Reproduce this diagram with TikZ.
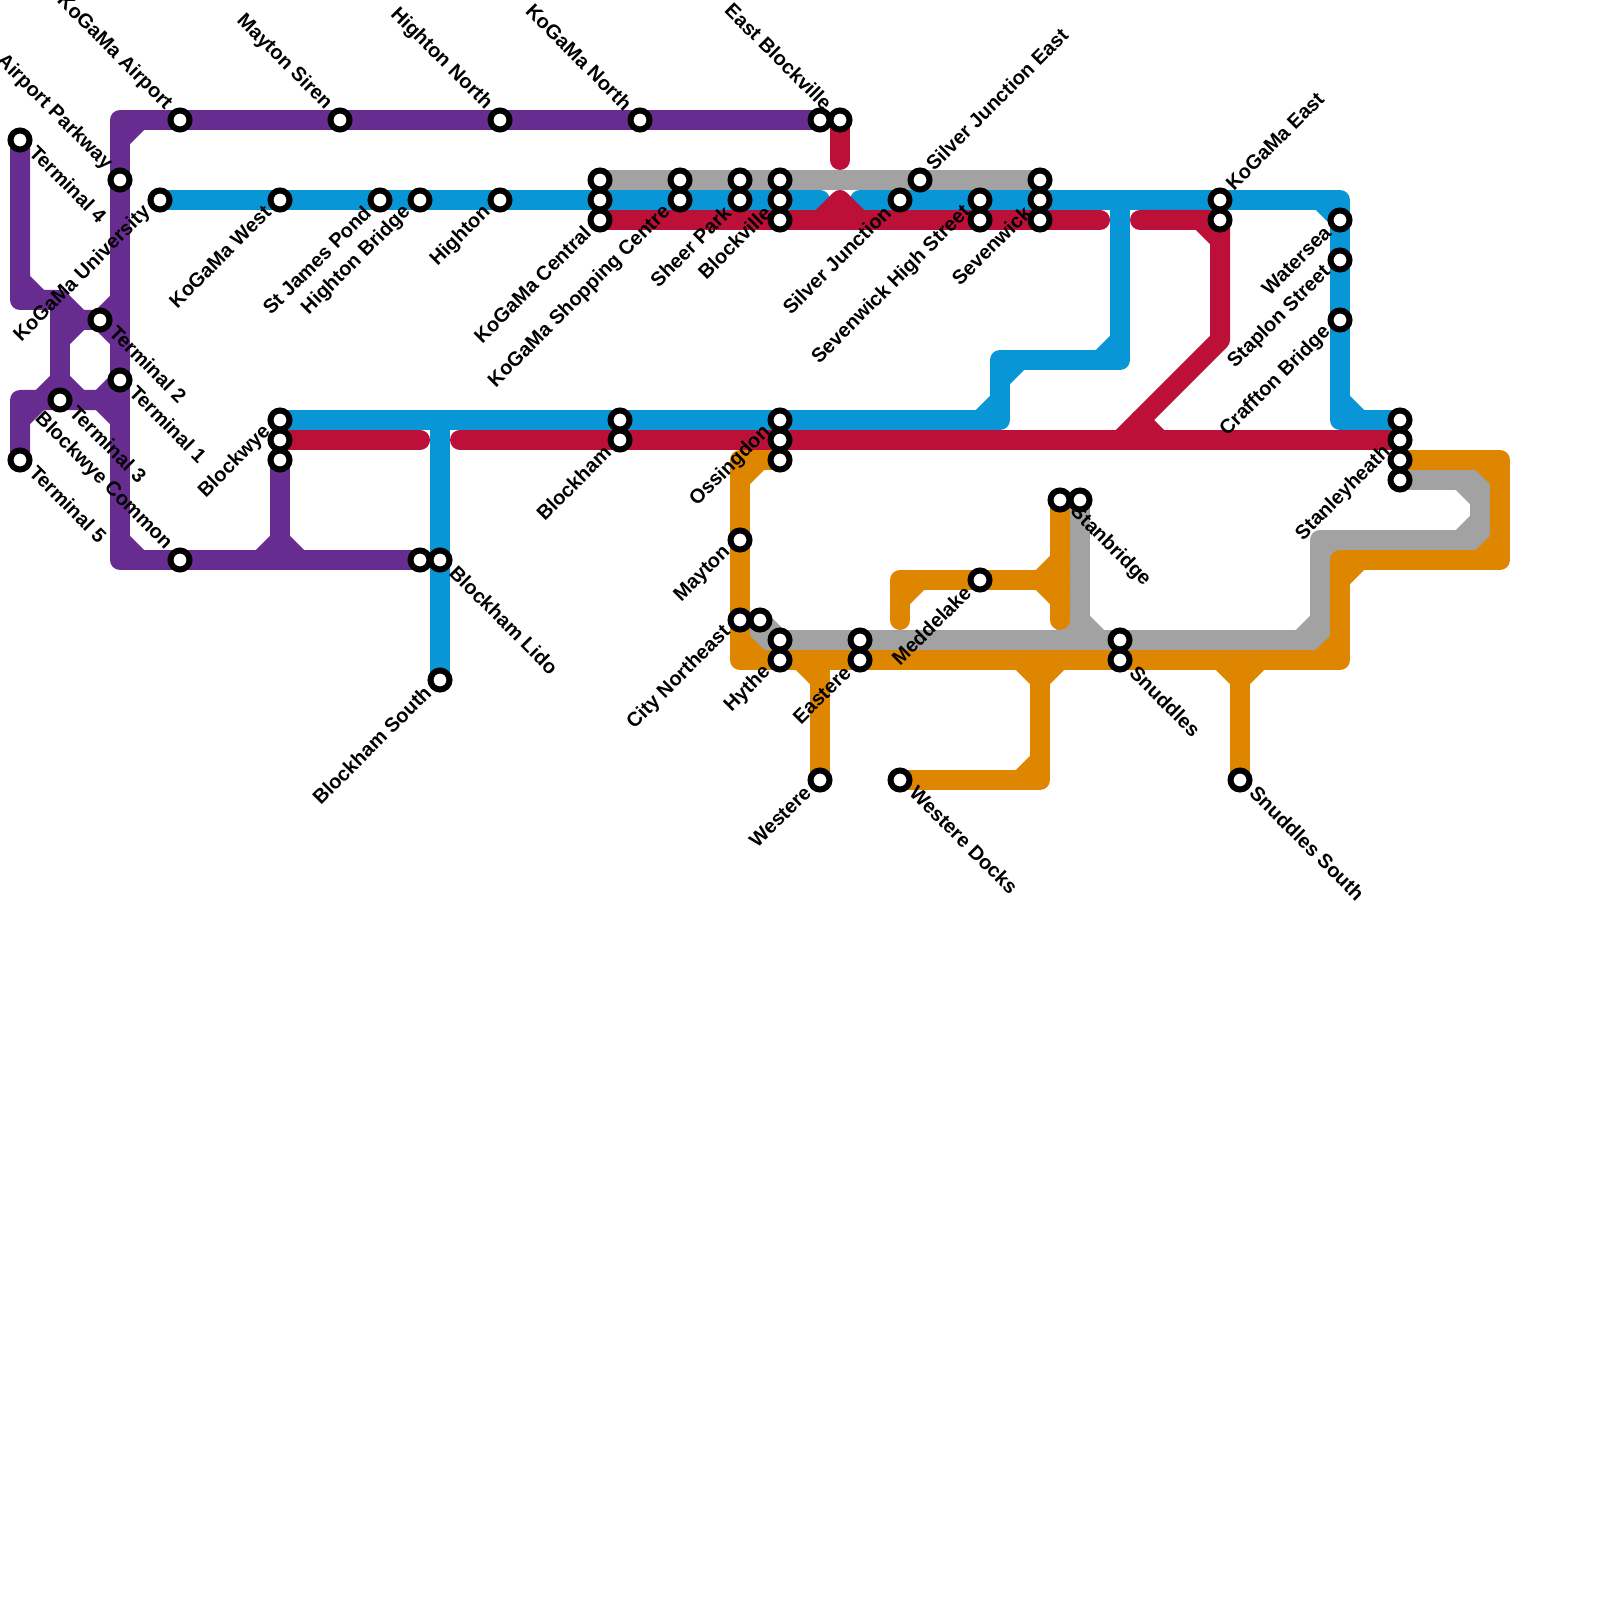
\documentclass[tikz,border=0pt]{standalone}
\usepackage{fontspec}
\setmainfont{Liberation Sans}
\usepackage{xcolor}
\definecolor{LinePurple}{HTML}{662C90}
\definecolor{LineBlue}{HTML}{0896D7}
\definecolor{LineRed}{HTML}{BD1038}
\definecolor{LineGrey}{HTML}{A2A2A2}
\definecolor{LineOrange}{HTML}{DF8600}
\usepackage{tikz}
\usetikzlibrary{backgrounds}

\begin{document}
\begin{tikzpicture}[
  x=2mm,y=-2mm,
  stop/.style={circle,draw=black,fill=white,line width=0.6mm,minimum size=1.9mm,inner sep=0pt},
  lab/.style={font=\fontsize{5.69pt}{6pt}\selectfont\bfseries,inner sep=0pt,label distance=0.9mm},
  sw/.style={stop,label={[lab,rotate=45,anchor=east,xshift=0.4mm,yshift=0.87mm]225:#1}},
  nw/.style={stop,label={[lab,rotate=-45,anchor=east,xshift=0.2mm,yshift=-0.5mm]135:#1}},
  ne/.style={stop,label={[lab,rotate=45,anchor=west,xshift=-0.36mm,yshift=-0.36mm]45:#1}},
  se/.style={stop,label={[lab,rotate=-45,anchor=west,xshift=-0.36mm,yshift=0.92mm]-45:#1}},
  metro/.style={line width=2mm,line cap=round,line join=round},
  purpleline/.style={metro,LinePurple},
  blueline/.style={metro,LineBlue},
  redline/.style={metro,LineRed},
  greyline/.style={metro,LineGrey},
  orangeline/.style={metro,LineOrange}
]
  \useasboundingbox (0,0) rectangle (80,80);

  % top row
  \node[nw={KoGaMa Airport}] (kair) at (9,6) {};
  \node[nw={Mayton Siren}] (msir) at (17,6) {};
  \node[nw={Highton North}] (hnor) at (25,6) {};
  \node[nw={KoGaMa North}] (knor) at (32,6) {};
  \node[stop] (ebl1) at (41,6) {};
  \node[nw={East Blockville}] (ebl2) at (42,6) {};
  % terminals
  \node[se={Terminal 4}] (ter4) at (1,7) {};
  \node[nw={Airport Parkway}] (apar) at (6,9) {};
  \node[se={Terminal 2}] (ter2) at (5,16) {};
  \node[se={Terminal 1}] (ter1) at (6,19) {};
  \node[se={Terminal 3}] (ter3) at (3,20) {};
  \node[se={Terminal 5}] (ter5) at (1,23) {};
  % second row
  \node[sw={KoGaMa University}] (kuni) at (8,10) {};
  \node[sw={KoGaMa West}] (kwes) at (14,10) {};
  \node[sw={St James Pond}] (sjam) at (19,10) {};
  \node[sw={Highton Bridge}] (hbri) at (21,10) {};
  \node[sw={Highton}] (high) at (25,10) {};
  \node[stop] (kce1) at (30,9) {};
  \node[stop] (kce2) at (30,10) {};
  \node[sw={KoGaMa Central}] (kce3) at (30,11) {};
  \node[stop] (ksc1) at (34,9) {};
  \node[sw={KoGaMa Shopping Centre}] (ksc2) at (34,10) {};
  \node[stop] (shp1) at (37,9) {};
  \node[sw={Sheer Park}] (shp2) at (37,10) {};
  \node[stop] (blv1) at (39,9) {};
  \node[sw={Blockville}] (blv2) at (39,10) {};
  \node[stop] (blv3) at (39,11) {};
  \node[sw={Silver Junction}] (sjun) at (45,10) {};
  \node[ne={Silver Junction East}] (sjea) at (46,9) {};
  \node[sw={Sevenwick High Street}] (shs1) at (49,10) {};
  \node[stop] (shs2) at (49,11) {};
  \node[stop] (sev1) at (52,9) {};
  \node[sw={Sevenwick}] (sev2) at (52,10) {};
  \node[stop] (sev3) at (52,11) {};
  \node[ne={KoGaMa East}] (kea1) at (61,10) {};
  \node[stop] (kea2) at (61,11) {};
  \node[sw={Watersea}] (wats) at (67,11) {};
  \node[sw={Staplon Street}] (stap) at (67,13) {};
  \node[sw={Craffton Bridge}] (craf) at (67,16) {};
  % middle
  \node[sw={Blockwye}] (bwy1) at (14,21) {};
  \node[stop] (bwy2) at (14,22) {};
  \node[stop] (bwy3) at (14,23) {};
  \node[stop] (bkh1) at (31,21) {};
  \node[sw={Blockham}] (bkh2) at (31,22) {};
  \node[sw={Ossingdon}] (oss1) at (39,21) {};
  \node[stop] (oss2) at (39,22) {};
  \node[stop] (oss3) at (39,23) {};
  \node[stop] (sth1) at (70,21) {};
  \node[sw={Stanleyheath}] (sth2) at (70,22) {};
  \node[stop] (sth3) at (70,23) {};
  \node[stop] (sth4) at (70,24) {};
  % lower
  \node[nw={Blockwye Common}] (bcom) at (9,28) {};
  \node[stop] (lid1) at (21,28) {};
  \node[se={Blockham Lido}] (lid2) at (22,28) {};
  \node[sw={Blockham South}] (bsou) at (22,34) {};
  \node[sw={Mayton}] (mayt) at (37,27) {};
  \node[sw={City Northeast}] (cne1) at (37,31) {};
  \node[stop] (cne2) at (38,31) {};
  \node[stop] (hyt1) at (39,32) {};
  \node[sw={Hythe}] (hyt2) at (39,33) {};
  \node[stop] (eas1) at (43,32) {};
  \node[sw={Eastere}] (eas2) at (43,33) {};
  \node[sw={Meddelake}] (medd) at (49,29) {};
  \node[se={Stanbridge}] (sbr1) at (53,25) {};
  \node[stop] (sbr2) at (54,25) {};
  \node[stop] (snu1) at (56,32) {};
  \node[se={Snuddles}] (snu2) at (56,33) {};
  \node[sw={Westere}] (west) at (41,39) {};
  \node[se={Westere Docks}] (wdoc) at (45,39) {};
  \node[se={Snuddles South}] (ssou) at (62,39) {};

  % bends and junctions
  \coordinate (pu1) at (6,6);
  \coordinate (pu2) at (6,28);
  \coordinate (pu3) at (1,15);
  \coordinate (pu4) at (3,15);
  \coordinate (pu5) at (4,16);
  \coordinate (pu6) at (3,19);
  \coordinate (pu7) at (1,20);
  \coordinate (pu8) at (5,20);
  \coordinate (pu9) at (14,28);
  \coordinate (bl1) at (41,10);
  \coordinate (bl2) at (43,10);
  \coordinate (bl3) at (67,10);
  \coordinate (bl4) at (67,21);
  \coordinate (bl5) at (56,10);
  \coordinate (bl6) at (56,18);
  \coordinate (bl7) at (50,18);
  \coordinate (bl8) at (50,21);
  \coordinate (bl9) at (22,21);
  \coordinate (re1) at (55,11);
  \coordinate (re2) at (57,11);
  \coordinate (re3) at (61,17);
  \coordinate (re4) at (56,22);
  \coordinate (re5) at (57,21);
  \coordinate (re6) at (42,8);
  \coordinate (re7) at (21,22);
  \coordinate (re8) at (23,22);
  \coordinate (re9) at (42,11);
  \coordinate (gr1) at (54,32);
  \coordinate (gr2) at (38,32);
  \coordinate (gr3) at (66,32);
  \coordinate (gr4) at (66,27);
  \coordinate (gr5) at (74,27);
  \coordinate (gr6) at (74,24);
  \coordinate (or1) at (37,23);
  \coordinate (or2) at (37,33);
  \coordinate (or3) at (67,33);
  \coordinate (or4) at (67,28);
  \coordinate (or5) at (75,28);
  \coordinate (or6) at (75,23);
  \coordinate (or7) at (45,31);
  \coordinate (or8) at (45,29);
  \coordinate (or9) at (53,29);
  \coordinate (or10) at (53,31);
  \coordinate (or11) at (41,33);
  \coordinate (or12) at (52,33);
  \coordinate (or13) at (52,39);
  \coordinate (or14) at (62,33);

  \begin{scope}[on background layer]
    % purple
    \draw[purpleline] (ebl1.center) -- (pu1) -- (pu2) -- (lid1.center);
    \draw[purpleline] (pu1) ++(0,1) -- ++(1,-1);
    \draw[purpleline] (pu2) ++(0,-1) -- ++(1,1);
    \draw[purpleline] (ter4.center) -- (pu3) -- (pu4) -- (pu5) -- (ter2.center);
    \draw[purpleline] (pu3) ++(0,-1) -- ++(1,1);
    \draw[purpleline] (pu4) -- (pu6);
    \draw[purpleline] (pu5) -- ++(-1,1);
    \draw[purpleline] (ter2.center) -- ++(1,-1);
    \draw[purpleline] (ter2.center) -- ++(1,1);
    \draw[purpleline] (ter5.center) -- (pu7) -- (pu8) -- (ter1.center);
    \draw[purpleline] (pu7) ++(0,1) -- ++(1,-1);
    \draw[purpleline] (pu8) -- ++(1,1);
    \draw[purpleline] (pu6) ++(-1,1) -- ++(1,-1) -- ++(1,1);
    \draw[purpleline] (bwy3.center) -- (pu9);
    \draw[purpleline] (pu9) ++(-1,0) -- ++(1,-1) -- ++(1,1);
    % blue
    \draw[blueline] (kuni.center) -- (bl1);
    \draw[blueline] (bl2) -- (bl3) -- (bl4) -- (sth1.center);
    \draw[blueline] (bl3) ++(-1,0) -- ++(1,1);
    \draw[blueline] (bl4) ++(0,-1) -- ++(1,1);
    \draw[blueline] (bl5) -- (bl6) -- (bl7) -- (bl8) -- (bwy1.center);
    \draw[blueline] (bl6) ++(0,-1) -- ++(-1,1);
    \draw[blueline] (bl7) ++(0,1) -- ++(1,-1);
    \draw[blueline] (bl8) ++(0,-1) -- ++(-1,1);
    \draw[blueline] (bl9) -- (bsou.center);
    % red
    \draw[redline] (ebl2.center) -- (re6);
    \draw[redline] (kce3.center) -- (re1);
    \draw[redline] (re9) ++(-1,0) -- ++(1,-1) -- ++(1,1);
    \draw[redline] (re2) -- (kea2.center) -- (re3) -- (re4);
    \draw[redline] (kea2.center) ++(-1,0) -- ++(1,1);
    \draw[redline] (re5) -- ++(1,1);
    \draw[redline] (bwy2.center) -- (re7);
    \draw[redline] (re8) -- (sth2.center);
    % grey
    \draw[greyline] (kce1.center) -- (sev1.center);
    \draw[greyline] (sbr2.center) -- (gr1);
    \draw[greyline] (gr1) ++(-1,0) -- ++(1,-1) -- ++(1,1);
    \draw[greyline] (cne2.center) -- (gr2) -- (gr3) -- (gr4) -- (gr5) -- (gr6) -- (sth4.center);
    \draw[greyline] (gr2) ++(0,-1) -- ++(1,1);
    \draw[greyline] (gr3) ++(-1,0) -- ++(1,-1);
    \draw[greyline] (gr4) ++(0,1) -- ++(1,-1);
    \draw[greyline] (gr5) ++(-1,0) -- ++(1,-1);
    \draw[greyline] (gr6) ++(-1,0) -- ++(1,1);
    % orange
    \draw[orangeline] (oss3.center) -- (or1) -- (or2) -- (or3) -- (or4) -- (or5) -- (or6) -- (sth3.center);
    \draw[orangeline] (or1) ++(0,1) -- ++(1,-1);
    \draw[orangeline] (or2) ++(0,-1) -- ++(1,1);
    \draw[orangeline] (or3) ++(-1,0) -- ++(1,-1);
    \draw[orangeline] (or4) ++(0,1) -- ++(1,-1);
    \draw[orangeline] (or5) ++(-1,0) -- ++(1,-1);
    \draw[orangeline] (or6) ++(-1,0) -- ++(1,1);
    \draw[orangeline] (or7) -- (or8) -- (or9);
    \draw[orangeline] (or8) ++(0,1) -- ++(1,-1);
    \draw[orangeline] (sbr1.center) -- (or10);
    \draw[orangeline] (or9) ++(-1,0) -- ++(1,-1);
    \draw[orangeline] (or9) ++(-1,0) -- ++(1,1);
    \draw[orangeline] (or11) -- (west.center);
    \draw[orangeline] (or11) ++(-1,0) -- ++(1,1);
    \draw[orangeline] (or12) -- (or13) -- (wdoc.center);
    \draw[orangeline] (or12) ++(-1,0) -- ++(1,1) -- ++(1,-1);
    \draw[orangeline] (or13) ++(0,-1) -- ++(-1,1);
    \draw[orangeline] (or14) -- (ssou.center);
    \draw[orangeline] (or14) ++(-1,0) -- ++(1,1) -- ++(1,-1);
  \end{scope}
\end{tikzpicture}
\end{document}
